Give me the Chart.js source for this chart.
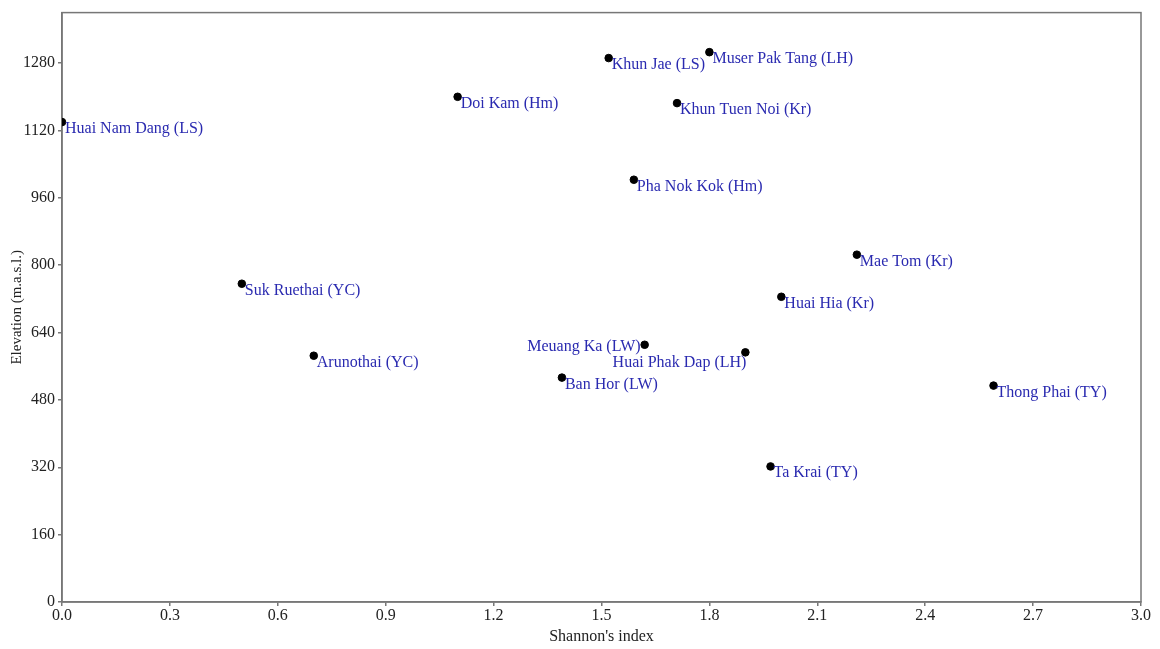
<!DOCTYPE html>
<html>
<head>
<meta charset="utf-8">
<script src="https://cdn.jsdelivr.net/npm/chart.js@4/dist/chart.umd.min.js"></script>
<style>
  html, body { margin: 0; padding: 0; background: #fff; }
  #wrap { width: 1160px; height: 649px; }
</style>
</head>
<body>
<div id="wrap"><canvas id="c" width="1160" height="649"></canvas></div>
<script>
// Villages: Shannon diversity index vs elevation
const villages = [
  "Huai Nam Dang (LS)", "Doi Kam (Hm)", "Khun Jae (LS)", "Muser Pak Tang (LH)",
  "Khun Tuen Noi (Kr)", "Pha Nok Kok (Hm)", "Mae Tom (Kr)", "Huai Hia (Kr)",
  "Suk Ruethai (YC)", "Arunothai (YC)", "Meuang Ka (LW)", "Huai Phak Dap (LH)",
  "Ban Hor (LW)", "Thong Phai (TY)", "Ta Krai (TY)"
];
const shannon = [0.00, 1.10, 1.52, 1.80, 1.71, 1.59, 2.21, 2.00, 0.50, 0.70, 1.62, 1.90, 1.39, 2.59, 1.97];
const elevation = [1140, 1200, 1292, 1306, 1185, 1003, 825, 725, 756, 585, 611, 593, 533, 514, 322];
// label placement relative to the point: "right" (default), "left", "below-left"
const labelSide = ["right", "right", "right", "right", "right", "right", "right", "right",
  "right", "right", "left", "below-left", "right", "right", "right"];

const xTicks = [0.0, 0.3, 0.6, 0.9, 1.2, 1.5, 1.8, 2.1, 2.4, 2.7, 3.0];
const yTicks = [0, 160, 320, 480, 640, 800, 960, 1120, 1280];

const SERIF = "'Liberation Serif', 'Times New Roman', serif";
const AXIS = '#777777';

const points = shannon.map((x, i) => ({ x: x, y: elevation[i] }));

const pointLabels = {
  id: 'pointLabels',
  afterDatasetsDraw(chart) {
    const ctx = chart.ctx;
    const meta = chart.getDatasetMeta(0);
    ctx.save();
    ctx.font = "16px " + SERIF;
    ctx.fillStyle = '#2a2ab0';
    ctx.textBaseline = 'alphabetic';
    meta.data.forEach((el, i) => {
      const side = labelSide[i];
      if (side === 'left') {
        ctx.textAlign = 'right';
        ctx.fillText(villages[i], el.x - 4, el.y + 6);
      } else if (side === 'below-left') {
        ctx.textAlign = 'right';
        ctx.fillText(villages[i], el.x + 1, el.y + 15);
      } else {
        ctx.textAlign = 'left';
        ctx.fillText(villages[i], el.x + 3, el.y + 11);
      }
    });
    ctx.restore();
  }
};

const frame = {
  id: 'frame',
  beforeDatasetsDraw(chart) {
    const a = chart.chartArea;
    const ctx = chart.ctx;
    ctx.save();
    ctx.strokeStyle = AXIS;
    ctx.lineWidth = 1.5;
    ctx.strokeRect(a.left, a.top, a.right - a.left, a.bottom - a.top);
    ctx.restore();
  }
};

new Chart(document.getElementById('c'), {
  type: 'scatter',
  data: {
    datasets: [{
      data: points,
      backgroundColor: '#000',
      borderColor: '#000',
      pointRadius: 3.8,
      pointHoverRadius: 3.8
    }]
  },
  options: {
    responsive: false,
    animation: false,
    events: [],
    layout: { padding: { left: 0, top: 12, right: 19, bottom: 0 } },
    plugins: { legend: { display: false }, tooltip: { enabled: false } },
    scales: {
      x: {
        type: 'linear',
        min: 0, max: 3.0,
        afterBuildTicks(s) { s.ticks = xTicks.map(v => ({ value: v })); },
        afterFit(s) { s.height = 47; },
        grid: { drawOnChartArea: false, drawTicks: true, tickLength: 4, color: AXIS, lineWidth: 1.5 },
        border: { color: AXIS, width: 1.5 },
        ticks: {
          color: '#222', font: { family: SERIF, size: 16 }, padding: 0, maxRotation: 0,
          callback: v => Number(v).toFixed(1)
        },
        title: {
          display: true, text: "Shannon's index", color: '#222',
          font: { family: SERIF, size: 16 }, padding: { top: 0, bottom: 3 }
        }
      },
      y: {
        type: 'linear',
        min: 0, max: 1400,
        afterBuildTicks(s) { s.ticks = yTicks.map(v => ({ value: v })); },
        afterFit(s) { s.width = 62; },
        grid: { drawOnChartArea: false, drawTicks: true, tickLength: 4, color: AXIS, lineWidth: 1.5 },
        border: { color: AXIS, width: 1.5 },
        ticks: {
          color: '#222', font: { family: SERIF, size: 16 }, padding: 3,
          callback: v => String(v)
        },
        title: {
          display: true, text: 'Elevation (m.a.s.l.)', color: '#222',
          font: { family: SERIF, size: 15 }, padding: { top: 8, bottom: 0 }
        }
      }
    }
  },
  plugins: [frame, pointLabels]
});
</script>
</body>
</html>
